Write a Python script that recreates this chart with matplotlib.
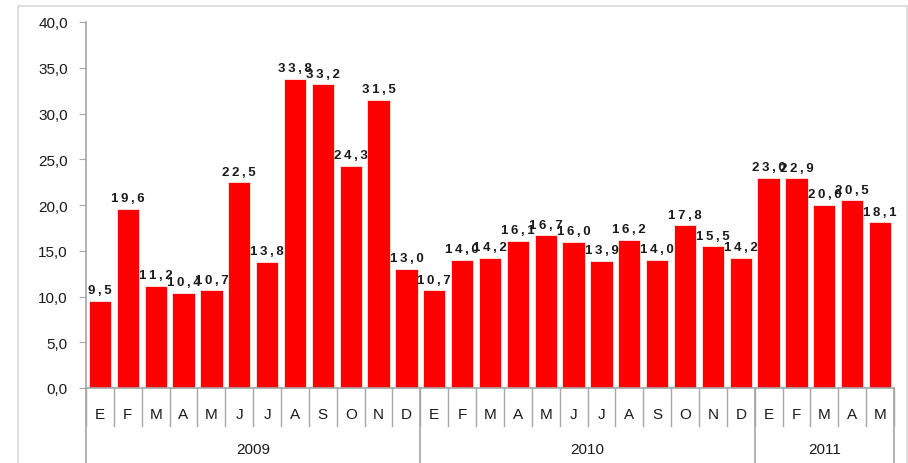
import matplotlib.pyplot as plt
from matplotlib.patches import Rectangle
from matplotlib.ticker import FuncFormatter

plt.rcParams['font.family'] = ['Liberation Sans', 'DejaVu Sans']

# Raw data
years = ['2009', '2010', '2011']
months = [list('EFMAMJJASOND'), list('EFMAMJJASOND'), list('EFMAM')]
values = [
    [9.5, 19.6, 11.2, 10.4, 10.7, 22.5, 13.8, 33.8, 33.2, 24.3, 31.5, 13.0],
    [10.7, 14.0, 14.2, 16.1, 16.7, 16.0, 13.9, 16.2, 14.0, 17.8, 15.5, 14.2],
    [23.0, 22.9, 20.0, 20.5, 18.1],
]

labels = [m for grp in months for m in grp]
vals = [v for grp in values for v in grp]
x = list(range(len(vals)))

fig = plt.figure(figsize=(9.08, 4.64), dpi=100)
fig.patches.append(Rectangle((18 / 908, -0.1), (907 - 18) / 908, 1.1 - 7 / 464,
                             transform=fig.transFigure, fill=False,
                             edgecolor='#d9d9d9', linewidth=1.2))
ax = fig.add_axes([86 / 908, 1 - 389 / 464, (894 - 86) / 908, 366 / 464])

ax.bar(x, vals, width=0.8, color='#ff0000', edgecolor='white', linewidth=0.5, zorder=2)

def comma(v):
    return f'{v:.1f}'.replace('.', ',')

for xi, v in zip(x, vals):
    ax.text(xi, v + 0.5, '\u2009'.join(comma(v)), ha='center', va='bottom',
            fontsize=9.5, fontweight='bold', color='#1a1a1a')

ax.set_xlim(-0.5, len(vals) - 0.5)
ax.set_ylim(0, 40)
ax.set_yticks(range(0, 41, 5))
ax.yaxis.set_major_formatter(FuncFormatter(lambda v, p: comma(v)))
ax.tick_params(axis='y', direction='out', length=5, color='#a6a6a6',
               labelsize=11, labelcolor='#1a1a1a', pad=8)
ax.set_xticks([])
for s in ['top', 'right']:
    ax.spines[s].set_visible(False)
for s in ['left', 'bottom']:
    ax.spines[s].set_color('#a6a6a6')
    ax.spines[s].set_linewidth(1.2)

trans = ax.get_xaxis_transform()
# month separators and labels
for i in range(len(vals) + 1):
    ax.plot([i - 0.5, i - 0.5], [0, -0.104], transform=trans, color='#a6a6a6',
            linewidth=1, clip_on=False)
for xi, m in zip(x, labels):
    ax.text(xi, -0.071, m, transform=trans, ha='center', va='center',
            fontsize=11, color='#1a1a1a')

# year separators and labels
start = 0
bounds = [-0.5]
for yr, grp in zip(years, months):
    end = start + len(grp)
    bounds.append(end - 0.5)
    ax.text((start + end - 1) / 2, -0.167, yr, transform=trans, ha='center',
            va='center', fontsize=11, color='#1a1a1a')
    start = end
for b in bounds:
    ax.plot([b, b], [0, -0.25], transform=trans, color='#a6a6a6',
            linewidth=1.2, clip_on=False)

fig.savefig('out.png', dpi=100)
